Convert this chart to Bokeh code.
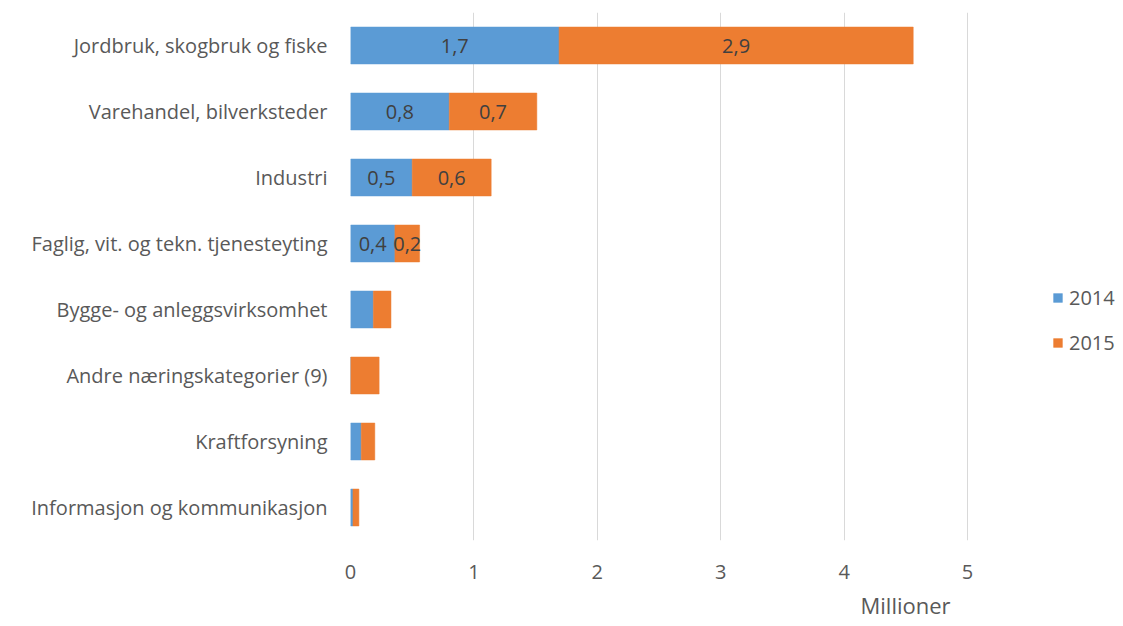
from bokeh.plotting import figure
from bokeh.models import ColumnDataSource, FactorRange, FixedTicker, Title
from bokeh.embed import file_html
from bokeh.resources import INLINE
from bokeh.core.properties import value

categories = [
    "Jordbruk, skogbruk og fiske",
    "Varehandel, bilverksteder",
    "Industri",
    "Faglig, vit. og tekn. tjenesteyting",
    "Bygge- og anleggsvirksomhet",
    "Andre næringskategorier (9)",
    "Kraftforsyning",
    "Informasjon og kommunikasjon",
]
v2014 = [1.69, 0.80, 0.50, 0.36, 0.185, 0.0, 0.087, 0.02]
v2015 = [2.87, 0.71, 0.64, 0.20, 0.143, 0.232, 0.11, 0.048]
show_label = [True, True, True, True, False, False, False, False]
series = ["2014", "2015"]
colors = ["#5B9BD5", "#ED7D31"]
x_ticks = [0, 1, 2, 3, 4, 5]

FONT = "Open Sans"
GRAY = "#595959"
FS = "20px"

def fmt(v):
    return f"{v:.1f}".replace(".", ",")

source = ColumnDataSource(dict(cat=categories, y2014=v2014, y2015=v2015))

p = figure(
    y_range=FactorRange(factors=list(reversed(categories))),
    x_range=(0, 6.264),
    frame_width=773, frame_height=528,
    min_border_left=350, min_border_right=0,
    min_border_top=12, min_border_bottom=86,
    output_backend="svg", toolbar_location=None,
)

r = p.hbar_stack(["y2014", "y2015"], y="cat", height=0.56, color=colors,
                 line_color=colors, line_width=0.5, source=source,
                 legend_label=series)

# data labels
lx, ly, lt = [], [], []
for c, a, b, s in zip(categories, v2014, v2015, show_label):
    if s:
        lx += [a / 2, a + b / 2]
        ly += [c, c]
        lt += [fmt(a), fmt(b)]
p.text(x=lx, y=ly, text=lt, text_align="center", text_baseline="middle",
       text_font=value(FONT), text_font_size=FS, text_color="#404040")

# axes
p.xaxis.ticker = FixedTicker(ticks=x_ticks)
p.xaxis.axis_line_color = None
p.xaxis.major_tick_line_color = None
p.xaxis.minor_tick_line_color = None
p.xaxis.major_label_standoff = 18
p.xaxis.major_label_text_font = FONT
p.xaxis.major_label_text_font_size = FS
p.xaxis.major_label_text_color = GRAY

p.yaxis.axis_line_color = None
p.yaxis.major_tick_line_color = None
p.yaxis.minor_tick_line_color = None
p.yaxis.major_label_standoff = 17
p.yaxis.major_label_text_font = FONT
p.yaxis.major_label_text_font_size = FS
p.yaxis.major_label_text_color = GRAY

p.ygrid.grid_line_color = None
p.xgrid.grid_line_color = "#D9D9D9"
p.xgrid.grid_line_width = 1
p.outline_line_color = None

p.add_layout(Title(text="Millioner", align="left", offset=510, standoff=12,
                   text_font=FONT, text_font_size="22px", text_color=GRAY,
                   text_font_style="normal"), "below")

lg = p.legend[0]
lg.location = (702, 184)
lg.padding = 0
lg.margin = 0
lg.spacing = 18
lg.glyph_width = 11
lg.glyph_height = 11
lg.label_height = 27
lg.label_standoff = 6
lg.border_line_color = None
lg.background_fill_alpha = 0
lg.label_text_font = FONT
lg.label_text_font_size = FS
lg.label_text_color = GRAY

open("out.html", "w").write(file_html(p, INLINE))
